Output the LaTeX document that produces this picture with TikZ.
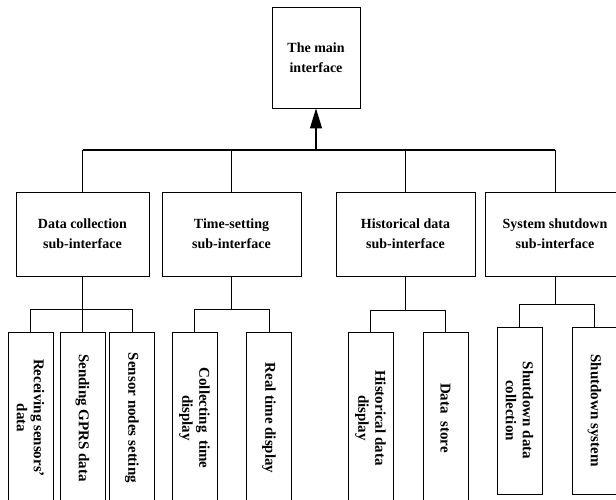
\documentclass[tikz,border=0pt]{standalone}
\usepackage{fontspec}
\setmainfont{Liberation Serif}
\usepackage{tikz}
\usetikzlibrary{arrows.meta}

\begin{document}
\begin{tikzpicture}[x=1pt,y=-1pt,>={Triangle[length=20pt,width=12pt]},
  line width=0.8pt,
  main node/.style={rectangle,draw,align=center,font=\fontsize{14}{20}\selectfont\bfseries},
  sub node/.style={main node,minimum width=133pt,minimum height=84pt},
  leaf node/.style={rectangle,draw,rotate=-90,align=center,minimum width=172pt,
    minimum height=45pt,inner sep=2pt,font=\fontsize{15}{17}\selectfont\bfseries}]

  \useasboundingbox (0,0) rectangle (616,500);
  \clip (0,0) rectangle (616,500);

  \node[main node,minimum width=88pt,minimum height=101pt] (1) at (316,57.5) {The main\\interface};

  \node[sub node] (2) at (82.5,234) {Data collection\\sub-interface};
  \node[sub node,minimum width=139pt] (3) at (231.5,234) {Time-setting\\sub-interface};
  \node[sub node,minimum width=139pt] (4) at (405.5,234) {Historical data\\sub-interface};
  \node[sub node,minimum width=140pt] (5) at (555,234) {System shutdown\\sub-interface};

  % leaves (rotated, so .west is the top side)
  \node[leaf node] (6) at (30.5,418) {Receiving sensors’\\data};
  \node[leaf node] (7) at (82.5,418) {Sending GPRS data};
  \node[leaf node] (8) at (132,418) {Sensor nodes setting};
  \node[leaf node] (9) at (194.5,418) {Collecting\ \ time\\display};
  \node[leaf node] (10) at (269,418) {Real time display};
  \node[leaf node] (11) at (370.5,418) {Historical data\\display};
  \node[leaf node] (12) at (445.5,418) {Data\ \ store};
  \node[leaf node,minimum width=167pt] (13) at (519.5,410.5) {Shutdown data\\collection};
  \node[leaf node,minimum width=167pt] (14) at (594.5,410.5) {Shutdown system};

  \coordinate (bus) at (0,150);
  \draw[line width=1.6pt] (2.north |- bus) -- (5.north |- bus);
  \foreach \n in {2,3,4,5}
    \draw (\n.north) -- (\n.north |- bus);
  \draw[->,line width=1.2pt] (1.south |- bus) -- (1.south);

  \foreach \n in {6,7,8}
    \draw (2.south) -- +(0,33) -| (\n.west);
  \foreach \n in {9,10}
    \draw (3.south) -- +(0,33) -| (\n.west);
  \foreach \n in {11,12}
    \draw (4.south) -- +(0,34) -| (\n.west);
  \foreach \n in {13,14}
    \draw (5.south) -- +(0,28) -| (\n.west);

\end{tikzpicture}
\end{document}
